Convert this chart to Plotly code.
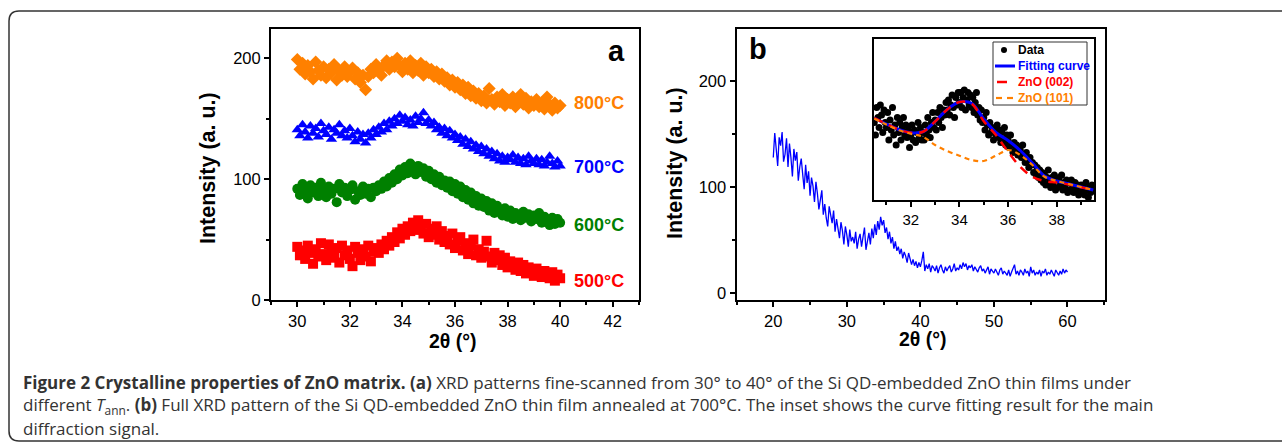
import numpy as np
import plotly.graph_objects as go

W, H = 1282, 447

# ---- panel a: fine scans 30-40 deg, one point every 0.1 deg ----
two_theta_a = np.round(np.linspace(30, 40, 101), 1)

int_500 = [44, 37, 41, 34, 45, 39, 30, 42, 36, 47, 38, 33, 46, 40, 35, 43, 31, 45, 37, 41,
           34, 28, 44, 39, 33, 42, 36, 45, 32, 40, 43,
           39, 46, 42, 49, 45, 52, 48, 56, 51, 59, 54, 61, 57, 64, 58, 66, 60, 55, 63, 52,
           59, 54, 61, 50, 57, 48, 53, 46, 55, 43, 49, 52, 41, 47, 38, 45, 50, 37, 42, 35,
           40, 49, 36, 31, 39, 33, 37, 29, 35, 27, 32, 28, 25, 31, 24, 29, 22, 27, 25, 20,
           26, 23, 19, 24, 21, 18, 23, 16, 21, 18]
int_600 = [92, 87, 96, 90, 84, 95, 89, 93, 86, 97, 91, 85, 94, 88, 92, 81, 96, 89, 93, 86,
           91, 95, 83, 90, 87, 94, 88, 92, 85, 93, 90,
           95, 92, 98, 94, 101, 97, 104, 100, 108, 103, 110, 105, 113, 107, 104, 111, 106, 109, 102, 107,
           100, 104, 97, 102, 95, 99, 93, 98, 90, 96, 88, 94, 85, 91, 83, 89, 80, 86, 78, 84,
           77, 82, 74, 80, 72, 78, 75, 70, 76, 69, 74, 67, 72, 70, 66, 73, 68, 71, 65, 70,
           67, 72, 64, 69, 66, 62, 68, 63, 67, 64]
int_700 = [141, 136, 145, 139, 134, 144, 138, 142, 135, 146, 140, 137, 143, 133, 141, 138, 145, 136, 140, 134,
           142,
           136, 131, 139, 133, 137, 130, 138, 134, 141, 137, 143, 139, 146, 141, 148, 144, 150, 146, 153, 148,
           151, 145, 149, 144, 152, 147, 150, 155, 146, 149, 144, 147, 141, 143, 138, 142, 136, 140, 134, 137,
           132, 135, 129, 133, 127, 131, 125, 128, 123, 127, 121, 125, 119, 123, 117, 121, 115, 119, 114, 118,
           116, 120, 114, 118, 113, 117, 112, 119, 115, 113, 117, 112, 116, 111, 114, 119, 113, 110, 115, 111]
int_800 = [199, 191, 196, 187, 194, 189, 183, 197, 190, 186, 193, 184, 191, 188, 195, 182, 190, 186, 193, 185,
           189, 192, 183, 188, 180, 186, 174, 185, 191, 188, 195,
           190, 186, 194, 198, 191, 197, 193, 200, 194, 189, 196, 191, 198, 188, 194, 190, 196, 186, 193, 188,
           191, 185, 189, 183, 187, 181, 184, 178, 182, 176, 180, 174, 178, 171, 176, 169, 173, 167, 171, 165,
           169, 163, 175, 166, 162, 168, 164, 170, 161, 166, 163, 168, 160, 165, 170, 162, 167, 159, 164, 161,
           166, 160, 163, 158, 168, 162, 157, 163, 159, 161]

series_a = [
    ("800°C", int_800, "#FF8000", "diamond", 163),
    ("700°C", int_700, "#0000FF", "triangle-up", 110),
    ("600°C", int_600, "#008000", "circle", 62),
    ("500°C", int_500, "#FF0000", "square", 16),
]

# ---- panel b: full pattern 20-60 deg, one point every 0.2 deg ----
two_theta_b = np.round(np.linspace(20, 60, 201), 1)
int_full = [128, 151, 136, 120, 147, 139, 152, 124, 131, 146, 119, 141, 128, 110, 136,
            125, 133, 106, 119, 127, 112, 98, 121, 104, 115, 92, 109, 101, 86, 105,
            94, 79, 88, 97, 74, 84, 71, 63, 82, 75, 66, 78, 58, 70, 61,
            52, 67, 59, 46, 63, 55, 44, 60, 49, 53, 47, 58, 42, 51, 56,
            44, 53, 62, 41, 50, 57, 46, 61, 52, 65, 55, 68, 60, 72, 64,
            69, 57, 62, 51, 58, 47, 53, 42, 49, 40, 44, 37, 42, 33, 39,
            35, 29, 38, 31, 27, 32, 26, 30, 24, 29, 25, 31, 39, 21, 27,
            23, 28, 20, 26, 24, 21, 26, 19, 24, 27, 22, 19, 25, 21, 24,
            26, 20, 23, 28, 21, 24, 22, 27, 23, 29, 25, 28, 22, 26, 24,
            27, 21, 25, 23, 20, 24, 26, 21, 23, 19, 22, 25, 18, 23, 21,
            19, 23, 20, 17, 22, 24, 18, 21, 19, 17, 22, 16, 20, 24, 27,
            18, 21, 17, 22, 20, 17, 23, 19, 21, 16, 25, 19, 22, 17, 20,
            18, 22, 16, 21, 19, 23, 17, 20, 18, 22, 19, 16, 22, 20, 17,
            21, 18, 23, 19, 22, 20]

# ---- inset: 700 C data around the main peak + fit ----
two_theta_in = np.round(np.linspace(30.5, 39.5, 181), 2)
int_in = [131, 126, 137, 133, 129, 138, 134, 127, 136, 131,
          129, 135, 124, 132, 128, 137, 126, 130, 122, 133,
          127, 131, 124, 129, 133, 126, 130, 125, 128, 121,
          126, 130, 124, 128, 123, 127, 131, 125, 129, 124,
          127, 124, 130, 126, 133, 128, 125, 131, 135, 129,
          132, 128, 135, 131, 137, 133, 129, 136, 134, 139,
          136, 140, 134, 138, 142, 137, 133, 141, 138, 143,
          139, 143, 137, 141, 144, 136, 140, 143, 138, 142,
          137, 141, 135, 139, 143, 134, 137, 132, 136, 131,
          133, 128, 135, 130, 126, 131, 127, 129, 124, 128,
          126, 130, 125, 128, 123, 127, 124, 129, 122, 126,
          124, 121, 126, 122, 119, 123, 120, 122, 118, 121,
          120, 117, 122, 118, 115, 119, 116, 113, 117, 114,
          115, 111, 114, 110, 113, 109, 112, 108, 111, 107,
          110, 106, 109, 112, 107, 105, 109, 106, 110, 104,
          108, 105, 109, 106, 110, 104, 107, 105, 108, 103,
          107, 104, 108, 105, 103, 107, 104, 106, 102, 105,
          106, 103, 105, 102, 107, 104, 101, 105, 103, 106,
          104]
two_theta_fit = np.round(np.linspace(30.5, 39.5, 19), 1)
fit_total = [132.7, 130.4, 128.2, 126.9, 127.3, 131.4, 136.2, 139.2, 138.7, 132.4,
             127.0, 123.8, 119.8, 114.8, 109.6, 107.6, 106.4, 105.2, 104.0]
fit_002 = [132.7, 130.4, 128.2, 126.9, 127.3, 131.4, 136.2, 139.2, 138.5, 131.5,
           126.0, 119.3, 113.3, 109.3, 107.6, 107.0, 106.2, 105.1, 104.0]
fit_101 = [132.5, 130.2, 128.0, 126.5, 125.3, 122.0, 119.6, 117.7, 116.0, 115.6,
           117.7, 120.0, 118.0, 114.0, 109.3, 107.6, 106.4, 105.2, 104.0]

inset_legend = [("Data", "black"), ("Fitting curve", "#0000FF"),
                ("ZnO (002)", "#FF0000"), ("ZnO (101)", "#FF8000")]


def px(x):
    return x / W


def py(y):
    return 1 - y / H


FONT = "Liberation Sans, Arial, sans-serif"
tickfont = dict(family=FONT, size=16.5, color="black")

fig = go.Figure()

for name, vals, col, sym, _ in series_a:
    fig.add_trace(go.Scatter(
        x=two_theta_a, y=vals, mode="markers", name=name,
        marker=dict(symbol=sym, size=10, color=col, line=dict(width=0)),
        xaxis="x", yaxis="y"))

fig.add_trace(go.Scatter(
    x=two_theta_b, y=int_full, mode="lines",
    line=dict(color="#0000FF", width=1.3), xaxis="x2", yaxis="y2"))

fig.add_trace(go.Scatter(
    x=two_theta_in, y=int_in, mode="markers", name="Data",
    marker=dict(symbol="circle", size=7, color="black"), xaxis="x3", yaxis="y3"))
fig.add_trace(go.Scatter(
    x=two_theta_fit, y=fit_total, mode="lines", line_shape="spline", name="Fitting curve",
    line=dict(color="#0000FF", width=3), xaxis="x3", yaxis="y3"))
fig.add_trace(go.Scatter(
    x=two_theta_fit, y=fit_002, mode="lines", line_shape="spline", name="ZnO (002)",
    line=dict(color="#FF0000", width=2.5, dash="9px,7px"), xaxis="x3", yaxis="y3"))
fig.add_trace(go.Scatter(
    x=two_theta_fit, y=fit_101, mode="lines", line_shape="spline", name="ZnO (101)",
    line=dict(color="#FF8000", width=2.2, dash="5px,4px"), xaxis="x3", yaxis="y3"))

box = dict(showline=True, mirror=True, linewidth=2, linecolor="black", showgrid=False,
           zeroline=False, ticks="outside", ticklen=5, tickwidth=1.5, tickcolor="black",
           tickfont=tickfont, automargin=False)
minor = lambda d: dict(dtick=d, ticks="outside", ticklen=3, tickwidth=1.5, tickcolor="black", showgrid=False)

fig.update_layout(
    width=W, height=H, margin=dict(l=0, r=0, t=0, b=0),
    template="none", paper_bgcolor="white", plot_bgcolor="white",
    font=dict(family=FONT, color="black"), showlegend=False,
    xaxis=dict(domain=[px(271), px(639)], range=[29, 43], tick0=30, dtick=2, minor=minor(1), anchor="y", **box),
    yaxis=dict(domain=[py(300), py(29)], range=[0, 224.3], tick0=0, dtick=100, minor=minor(50), anchor="x", **box),
    xaxis2=dict(domain=[px(736.5), px(1105)], range=[15, 65.1], tick0=0, dtick=10, minor=minor(5), anchor="y2", **box),
    yaxis2=dict(domain=[py(300), py(29)], range=[-6.3, 249], tick0=0, dtick=100, minor=minor(50), anchor="x2", **box),
    xaxis3=dict(domain=[px(874), px(1094)], range=[30.49, 39.53], tick0=30, dtick=2, minor=minor(1),
                anchor="y3", **{**box, "linewidth": 1.6, "tickfont": dict(family=FONT, size=15, color="black")}),
    yaxis3=dict(domain=[py(200), py(39)], range=[100, 164.4], anchor="x3",
                **{**box, "linewidth": 1.6, "ticks": "", "showticklabels": False}),
)

ann = []
for name, vals, col, sym, ylab in series_a:
    ann.append(dict(x=40.45, y=ylab, xref="x", yref="y", text=f"<b>{name}</b>", showarrow=False,
                    xanchor="left", yanchor="middle", font=dict(family=FONT, size=18, color=col)))
ann += [
    dict(x=px(616), y=py(51), text="<b>a</b>", font=dict(family=FONT, size=29)),
    dict(x=px(758), y=py(49), text="<b>b</b>", font=dict(family=FONT, size=29)),
    dict(x=px(208), y=py(168), text="<b>Intensity (a. u.)</b>", textangle=-90, font=dict(family=FONT, size=21.5)),
    dict(x=px(675), y=py(163), text="<b>Intensity (a. u.)</b>", textangle=-90, font=dict(family=FONT, size=21.5)),
    dict(x=px(453), y=py(341), text="<b>2θ (°)</b>", font=dict(family=FONT, size=19.5)),
    dict(x=px(923), y=py(339), text="<b>2θ (°)</b>", font=dict(family=FONT, size=19.5)),
]
for a in ann[4:]:
    a.update(xref="paper", yref="paper", showarrow=False, xanchor="center", yanchor="middle")

# inset legend, drawn by hand so it stays as compact as the original
shapes = [dict(type="rect", x0=px(993), x1=px(1087), y0=py(105), y1=py(42), xref="paper", yref="paper",
               line=dict(color="#333", width=1), fillcolor="white", layer="above")]
row_y = [50, 66, 82, 98]
shapes.append(dict(type="circle", x0=px(1001), x1=px(1007), y0=py(53), y1=py(47), xref="paper", yref="paper",
                   line=dict(width=0), fillcolor="black", layer="above"))
shapes.append(dict(type="line", x0=px(995), x1=px(1015), y0=py(66), y1=py(66), xref="paper", yref="paper",
                   line=dict(color="#0000FF", width=3), layer="above"))
shapes.append(dict(type="line", x0=px(997), x1=px(1007), y0=py(82), y1=py(82), xref="paper", yref="paper",
                   line=dict(color="#FF0000", width=2.5), layer="above"))
for a0, a1 in [(996, 1002), (1007, 1013)]:
    shapes.append(dict(type="line", x0=px(a0), x1=px(a1), y0=py(98), y1=py(98), xref="paper", yref="paper",
                       line=dict(color="#FF8000", width=2.2), layer="above"))
for (label, col), yy in zip(inset_legend, row_y):
    ann.append(dict(x=px(1016), y=py(yy), xref="paper", yref="paper", text=f"<b>{label}</b>", showarrow=False,
                    xanchor="left", yanchor="middle", font=dict(family=FONT, size=12, color=col)))

caption = [
    "<b>Figure 2 Crystalline properties of ZnO matrix. (a)</b> XRD patterns fine-scanned from 30° to 40° "
    "of the Si QD-embedded ZnO thin films under",
    "different <i>T</i><sub>ann</sub>. <b>(b)</b> Full XRD pattern of the Si QD-embedded ZnO thin film "
    "annealed at 700°C. The inset shows the curve fitting result for the main",
    "diffraction signal.",
]
for i, line in enumerate(caption):
    ann.append(dict(x=px(21), y=py(382 + 23 * i), xref="paper", yref="paper", text=line, showarrow=False,
                    xanchor="left", yanchor="middle", font=dict(family="Open Sans", size=17, color="#333")))

# rounded frame around the figure (right side runs off the page)
r = 10
x0, y0, x1, y1 = 9, 11, 1300, 441
path = (f"M {px(x1)},{py(y0)} L {px(x0 + r)},{py(y0)} Q {px(x0)},{py(y0)} {px(x0)},{py(y0 + r)} "
        f"L {px(x0)},{py(y1 - r)} Q {px(x0)},{py(y1)} {px(x0 + r)},{py(y1)} L {px(x1)},{py(y1)}")
shapes.append(dict(type="path", path=path, xref="paper", yref="paper", line=dict(color="#333", width=1.5)))

fig.update_layout(annotations=ann, shapes=shapes)

fig.write_html("out.html", config={"displayModeBar": False},
               post_script="document.body.style.margin='0';document.body.style.overflow='hidden';")
